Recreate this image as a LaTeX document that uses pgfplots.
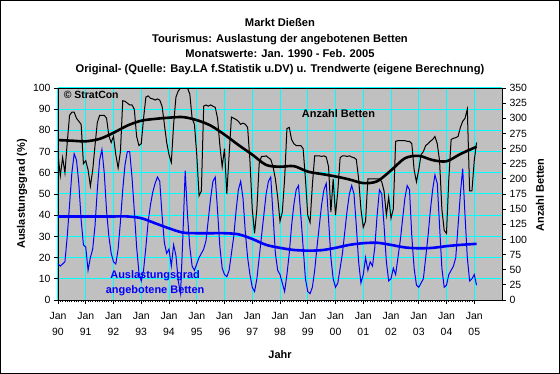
\documentclass[border=0pt]{standalone}
\usepackage{pgfplots}
\pgfplotsset{compat=1.18}
\usepackage{pgfplotstable}
\usepackage{fontspec}
\setmainfont{Liberation Sans}
\definecolor{plotgray}{HTML}{C0C0C0}
\definecolor{gridcyan}{HTML}{00FFFF}
\definecolor{xlblue}{HTML}{0000FF}
\newcommand{\tickfont}{\fontsize{10.5}{16}\selectfont}
\newcommand{\titlefont}{\fontsize{11.2}{15.3}\selectfont\bfseries}

\pgfplotstableread{
m v
0 17
1 16
2 17
3 18
4 30
5 45
6 60
7 69
8 66
9 55
10 38
11 26
12 25
13 14
14 20
15 24
16 35
17 52
18 66
19 71
20 60
21 42
22 30
23 22
24 18
25 17
26 24
27 37
28 52
29 64
30 70
31 70
32 58
33 42
34 25
35 13
36 9
37 14
38 25
39 37
40 45
41 51
42 55
43 58
44 56
45 40
46 27
47 22
48 24
49 16
50 26
51 21
52 9
53 3
54 30
55 61
56 40
57 25
58 16
59 14
60 17
61 20
62 22
63 24
64 28
65 38
66 48
67 56
68 58
69 42
70 25
71 15
72 12
73 11
74 14
75 22
76 30
77 42
78 52
79 56
80 48
81 32
82 20
83 12
84 6
85 4
86 10
87 20
88 30
89 40
90 50
91 56
92 58
93 40
94 22
95 14
96 12
97 8
98 4
99 12
100 22
101 35
102 45
103 52
104 54
105 40
106 25
107 10
108 4
109 3
110 6
111 14
112 25
113 35
114 45
115 52
116 55
117 38
118 20
119 10
120 6
121 8
122 15
123 22
124 32
125 42
126 50
127 54
128 50
129 35
130 18
131 8
132 12
133 20
134 14
135 18
136 16
137 25
138 40
139 52
140 50
141 35
142 18
143 9
144 10
145 15
146 12
147 20
148 28
149 38
150 48
151 54
152 52
153 30
154 15
155 7
156 6
157 8
158 10
159 20
160 30
161 42
162 52
163 59
164 55
165 35
166 15
167 6
168 7
169 12
170 14
171 16
172 20
173 35
174 50
175 62
176 40
177 20
178 9
179 10
180 12
181 7
}\auslastung

\pgfplotstableread{
m v
0 39.4
6 39.4
12 39.4
18 39.4
24 39.4
30 39.4
36 38.6
42 36.2
48 33.8
54 31.8
60 31.5
66 31.5
72 31.5
78 31
84 28.8
90 26
96 24.6
102 23.6
108 23.3
114 23.5
120 24.6
126 26
132 26.8
138 27
144 26
150 24.8
156 24.4
162 24.6
168 25.4
174 26
181 26.5
}\auslastungtrend

\pgfplotstableread{
m r
0 240
1 205
2 235
3 210
4 260
5 305
6 310
7 310
8 300
9 295
10 290
11 225
12 230
13 215
14 188
15 214
16 255
17 293
18 305
19 305
20 305
21 300
22 271
23 260
24 270
25 240
26 218
27 245
28 329
29 328
30 325
31 322
32 322
33 315
34 270
35 255
36 258
37 300
38 335
39 337
40 333
41 332
42 330
43 332
44 330
45 320
46 290
47 260
48 240
49 227
50 290
51 335
52 345
53 350
54 350
55 350
56 350
57 340
58 300
59 290
60 240
61 172
62 180
63 320
64 322
65 320
66 322
67 320
68 318
69 300
70 255
71 220
72 250
73 175
74 240
75 302
76 300
77 298
78 295
79 290
80 292
81 290
82 285
83 230
84 150
85 110
86 150
87 225
88 237
89 237
90 238
91 235
92 232
93 220
94 200
95 170
96 130
97 145
98 200
99 283
100 285
101 265
102 258
103 255
104 255
105 255
106 250
107 200
108 140
109 128
110 190
111 238
112 238
113 238
114 237
115 238
116 236
117 220
118 145
119 200
120 140
121 180
122 235
123 238
124 238
125 237
126 238
127 236
128 235
129 232
130 200
131 150
132 120
133 130
134 200
135 200
136 200
137 200
138 200
139 200
140 195
141 180
142 140
143 170
144 135
145 150
146 262
147 263
148 263
149 263
150 263
151 262
152 262
153 258
154 215
155 195
156 215
157 240
158 245
159 255
160 258
161 262
162 265
163 270
164 258
165 230
166 150
167 115
168 110
169 200
170 265
171 267
172 268
173 270
174 285
175 295
176 300
177 315
178 180
179 180
180 230
181 260
}\betten

\pgfplotstableread{
m r
0 264
6 263
12 262
18 266
24 276
30 288
36 296
42 299
48 301
54 302
60 297
66 288
72 273
78 256
84 240
90 223
96 220
102 221
108 212
114 208
120 204
126 199
132 193
138 196
144 214
150 234
156 238
162 231
168 229
174 241
181 253
}\bettentrend

\begin{document}
\begin{tikzpicture}
\useasboundingbox (-58bp,-74bp) rectangle (502bp,300bp);
\fill[white] (-58bp,-74bp) rectangle (502bp,300bp);
\draw[black,line width=1bp] (-57.5bp,-73.5bp) rectangle (501.5bp,299.5bp);

\begin{axis}[
  at={(0bp,0bp)}, anchor=south west,
  scale only axis, width=444bp, height=212bp,
  xmin=0, xmax=192, ymin=0, ymax=100,
  axis background/.style={fill=plotgray},
  xtick={0,12,...,180},
  xticklabels={Jan\\90,Jan\\91,Jan\\92,Jan\\93,Jan\\94,Jan\\95,Jan\\96,Jan\\97,Jan\\98,Jan\\99,Jan\\00,Jan\\01,Jan\\02,Jan\\03,Jan\\04,Jan\\05},
  minor x tick num=11,
  ytick={0,10,...,100},
  grid=major,
  major grid style={gridcyan, line width=1bp},
  tick align=outside,
  major tick length=4bp, minor tick length=2bp,
  xtick pos=bottom, ytick pos=left,
  axis line style={black, line width=0.8bp},
  every tick/.style={black, line width=0.8bp},
  x tick label style={align=center, font=\tickfont, yshift=-5bp},
  y tick label style={font=\tickfont},
  /pgf/number format/assume math mode=true,
]
\addplot[xlblue, line width=1bp] table[x=m,y=v]{\auslastung};
\addplot[xlblue, line width=2.6bp, smooth] table[x=m,y=v]{\auslastungtrend};
\node[anchor=west, font=\bfseries\fontsize{10.5}{12}\selectfont] at (axis cs:1.0,96.8) {© StratCon};
\node[align=center, text=xlblue, font=\bfseries\fontsize{11}{15}\selectfont] at (axis cs:42,7.8) {Auslastungsgrad\\angebotene Betten};
\end{axis}

\begin{axis}[
  at={(0bp,0bp)}, anchor=south west,
  scale only axis, width=444bp, height=212bp,
  xmin=0, xmax=192, ymin=0, ymax=350,
  axis x line=none, axis y line*=right,
  ytick={0,25,...,350},
  tick align=outside, major tick length=4bp,
  axis line style={black, line width=0.8bp},
  every tick/.style={black, line width=0.8bp},
  y tick label style={font=\tickfont},
  /pgf/number format/assume math mode=true,
]
\addplot[black, line width=1bp] table[x=m,y=r]{\betten};
\addplot[black, line width=2.6bp, smooth] table[x=m,y=r]{\bettentrend};
\node[font=\bfseries\fontsize{11}{13}\selectfont] at (axis cs:121.3,307.5) {Anzahl Betten};
\end{axis}

\node[font=\titlefont, align=center] at (222bp,253bp) {Markt Dießen\\Tourismus: Auslastung der angebotenen Betten\\Monatswerte: Jan. 1990 - Feb. 2005\\Original- (Quelle: Bay.LA f.Statistik u.DV) u. Trendwerte (eigene Berechnung)};
\node[font=\bfseries\fontsize{11}{13}\selectfont] at (222bp,-55bp) {Jahr};
\node[rotate=90, font=\bfseries\fontsize{11}{13}\selectfont] at (-36bp,106bp) {Auslastungsgrad (\%)};
\node[rotate=90, font=\bfseries\fontsize{11}{13}\selectfont] at (482bp,105bp) {Anzahl Betten};
\end{tikzpicture}
\end{document}
